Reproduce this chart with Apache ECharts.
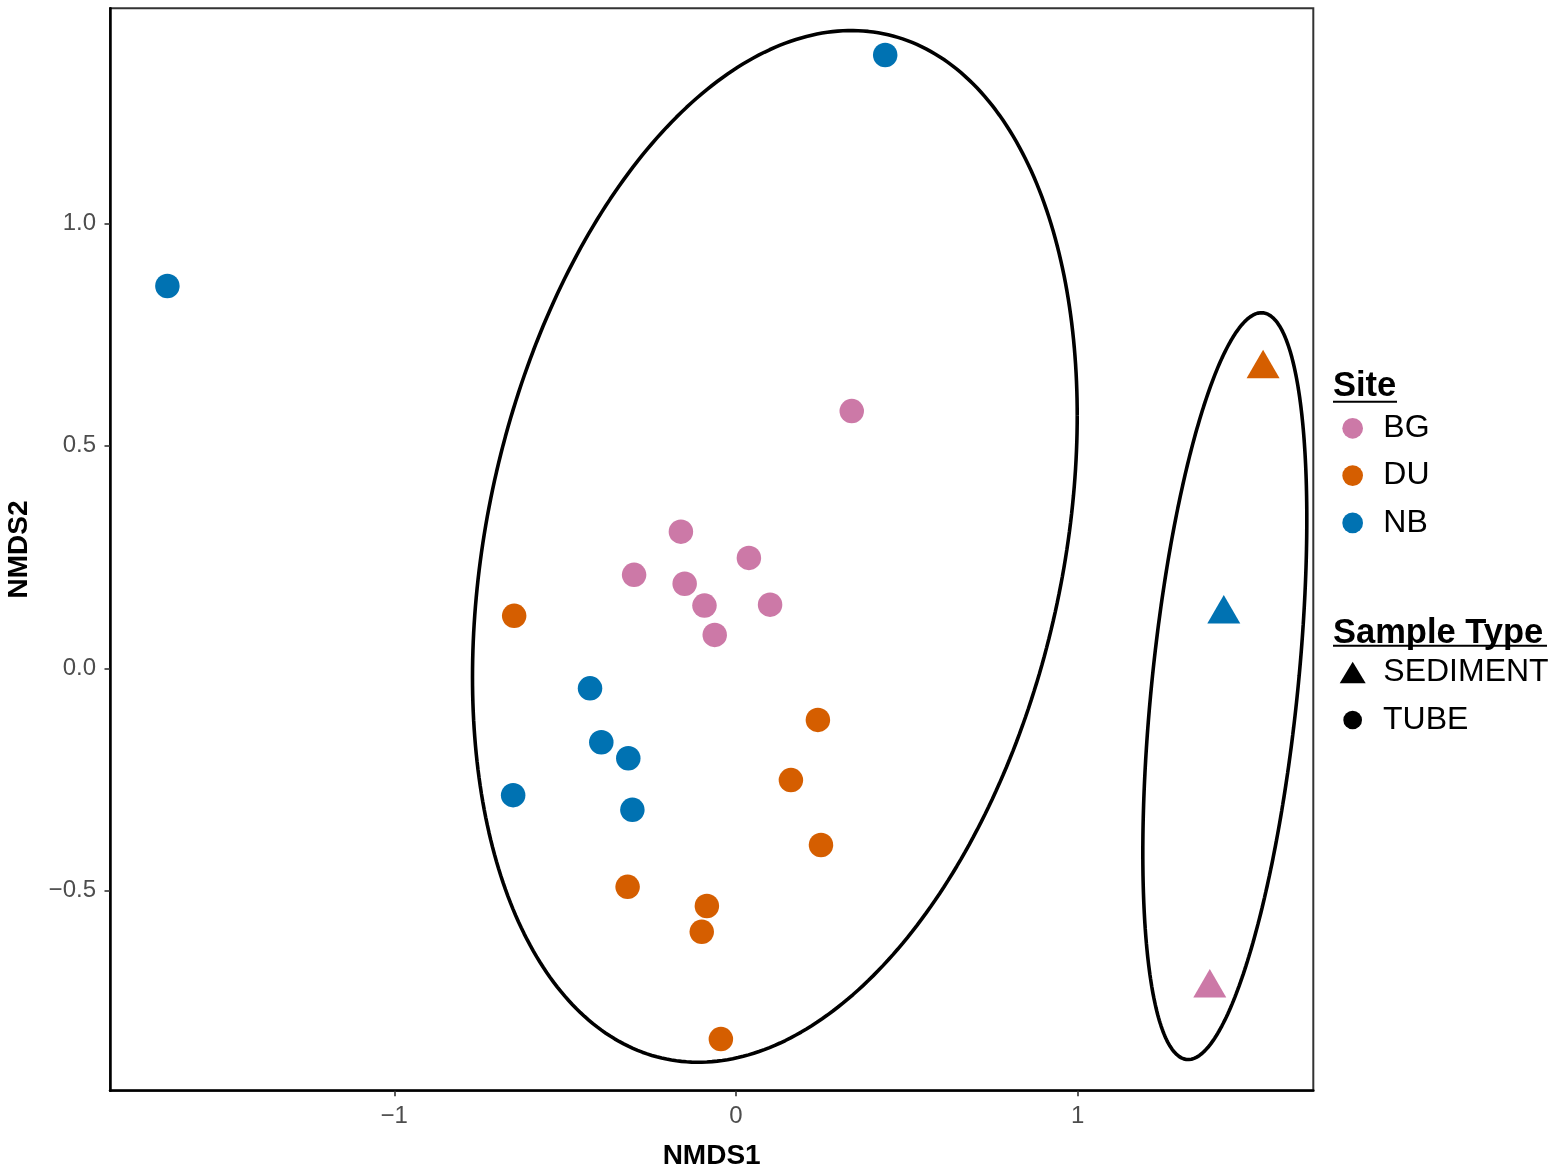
<!DOCTYPE html>
<html>
<head>
<meta charset="utf-8">
<script src="https://cdn.jsdelivr.net/npm/echarts@6/dist/echarts.min.js"></script>
<style>html,body{margin:0;padding:0;background:#fff}#chart{width:1559px;height:1175px}</style>
</head>
<body>
<div id="chart"></div>
<script>
// ---- data (NMDS coordinates) ----
const siteNames = ['BG', 'DU', 'NB'];
const siteColors = ['#CC79A7', '#D55E00', '#0072B2'];
const bgTube = [[0.339,0.578],[-0.161,0.307],[0.038,0.248],[-0.298,0.210],[-0.150,0.190],[-0.092,0.141],[0.100,0.143],[-0.062,0.075]];
const bgSediment = [[1.387,-0.718]];
const duTube = [[-0.649,0.118],[0.240,-0.116],[0.161,-0.251],[0.249,-0.397],[-0.317,-0.491],[-0.085,-0.534],[-0.100,-0.592],[-0.044,-0.833]];
const duSediment = [[1.543,0.673]];
const nbTube = [[-1.664,0.859],[0.437,1.378],[-0.427,-0.045],[-0.394,-0.166],[-0.315,-0.202],[-0.652,-0.285],[-0.303,-0.318]];
const nbSediment = [[1.428,0.122]];
const sampleTypes = ['SEDIMENT', 'TUBE'];
const xTicks = [-1, 0, 1];
const yTicks = [-0.5, 0, 0.5, 1.0];
// ellipse parameters in data units: [centerX, centerY, sdX, sdY, covXY]
const ellipseTube = [0.114, 0.274, 0.885, 1.159, 0.260];
const ellipseSediment = [1.431, -0.040, 0.240, 0.839, 0.090];

const FONT = "'Liberation Sans', Arial, Helvetica, sans-serif";
const tubeBySite = [bgTube, duTube, nbTube];
const sedBySite = [bgSediment, duSediment, nbSediment];

function ellipsePoints(p) {
  const [cx, cy, sx, sy, sxy] = p;
  const k = sxy / sx;
  const m = Math.sqrt(sy * sy - k * k);
  const out = [];
  const n = 360;
  for (let i = 0; i <= n; i++) {
    const t = 2 * Math.PI * i / n;
    out.push([cx + sx * Math.cos(t), cy + k * Math.cos(t) + m * Math.sin(t)]);
  }
  return out;
}
function fmtMinus(s) { return s.replace('-', '\u2212'); }

const series = [];
[ellipseTube, ellipseSediment].forEach((e, i) => {
  series.push({
    name: 'ellipse' + i, type: 'line', data: ellipsePoints(e),
    showSymbol: false, symbol: 'none', smooth: false, silent: true,
    lineStyle: { color: '#000', width: 3.6 }, z: 2
  });
});
siteNames.forEach((name, i) => {
  const data = tubeBySite[i].map(v => ({ value: v, symbol: 'circle', symbolSize: 24.5 }))
    .concat(sedBySite[i].map(v => ({ value: v, symbol: 'triangle', symbolSize: [33, 28.5], symbolOffset: [0, -4.75] })));
  series.push({
    name, type: 'scatter', data,
    itemStyle: { color: siteColors[i], opacity: 1 }, z: 3
  });
});
series.push({ name: 'SEDIMENT', type: 'scatter', data: [], itemStyle: { color: '#000', opacity: 1 } });
series.push({ name: 'TUBE', type: 'scatter', data: [], itemStyle: { color: '#000', opacity: 1 } });

function legendText(padLeft) {
  return { fontSize: 32, lineHeight: 32, color: '#000', fontFamily: FONT, padding: [0, 0, 0, padLeft] };
}
const blackIcon = { color: '#000', opacity: 1, borderWidth: 0 };

const option = {
  animation: false,
  backgroundColor: '#fff',
  textStyle: { fontFamily: FONT },
  grid: {
    left: 110, right: 245.7, top: 8.3, bottom: 84.3,
    show: true, borderColor: '#333', borderWidth: 2, backgroundColor: 'transparent',
    containLabel: false, outerBoundsMode: 'none'
  },
  xAxis: {
    type: 'value', min: -1.832, max: 1.690,
    name: 'NMDS1', nameLocation: 'middle', nameGap: 52,
    nameTextStyle: { fontSize: 28, fontWeight: 'bold', color: '#000', fontFamily: FONT },
    axisLine: { show: true, onZero: false, lineStyle: { color: '#000', width: 2.5 } },
    axisTick: { show: true, length: 5.5, lineStyle: { color: '#333', width: 1.6 }, customValues: xTicks },
    axisLabel: { fontSize: 24, color: '#4D4D4D', margin: 14, customValues: xTicks, formatter: v => fmtMinus(String(v)) },
    splitLine: { show: false }
  },
  yAxis: {
    type: 'value', min: -0.949, max: 1.483,
    name: 'NMDS2', nameLocation: 'middle', nameGap: 77,
    nameTextStyle: { fontSize: 28, fontWeight: 'bold', color: '#000', fontFamily: FONT },
    axisLine: { show: true, onZero: false, lineStyle: { color: '#000', width: 2.5 } },
    axisTick: { show: true, length: 5.5, lineStyle: { color: '#333', width: 1.6 }, customValues: yTicks },
    axisLabel: { fontSize: 24, color: '#4D4D4D', margin: 14, customValues: yTicks, formatter: v => fmtMinus(Number(v).toFixed(1)) },
    splitLine: { show: false }
  },
  legend: [
    {
      orient: 'vertical', left: 1342.3, top: 412.3, padding: 0,
      itemWidth: 20.7, itemHeight: 20.7, itemGap: 15.3, selectedMode: false,
      data: siteNames.map((n, i) => ({ name: n, icon: 'circle', itemStyle: { color: siteColors[i], opacity: 1, borderWidth: 0 } })),
      textStyle: legendText(15.3)
    },
    {
      orient: 'vertical', left: 1339.7, top: 656.5, padding: 0,
      itemWidth: 26, itemHeight: 21.6, selectedMode: false, itemStyle: blackIcon,
      data: [{ name: sampleTypes[0], icon: 'triangle', itemStyle: blackIcon }],
      textStyle: legendText(12.6)
    },
    {
      orient: 'vertical', left: 1343.3, top: 704, padding: 0,
      itemWidth: 18.7, itemHeight: 18.7, selectedMode: false, itemStyle: blackIcon,
      data: [{ name: sampleTypes[1], icon: 'circle', itemStyle: blackIcon }],
      textStyle: legendText(16)
    }
  ],
  graphic: [
    { type: 'text', x: 1333, y: 386.7, style: { text: 'Site', font: 'bold 34.5px ' + FONT, fill: '#000', align: 'left', verticalAlign: 'middle' } },
    { type: 'line', shape: { x1: 1333, y1: 401.7, x2: 1397, y2: 401.7 }, style: { stroke: '#000', lineWidth: 2 } },
    { type: 'text', x: 1333, y: 633.3, style: { text: 'Sample Type', font: 'bold 34.5px ' + FONT, fill: '#000', align: 'left', verticalAlign: 'middle' } },
    { type: 'line', shape: { x1: 1333, y1: 645.7, x2: 1547, y2: 645.7 }, style: { stroke: '#000', lineWidth: 2 } }
  ],
  series
};

const chart = echarts.init(document.getElementById('chart'), null, { renderer: 'canvas' });
chart.setOption(option);
</script>
</body>
</html>
